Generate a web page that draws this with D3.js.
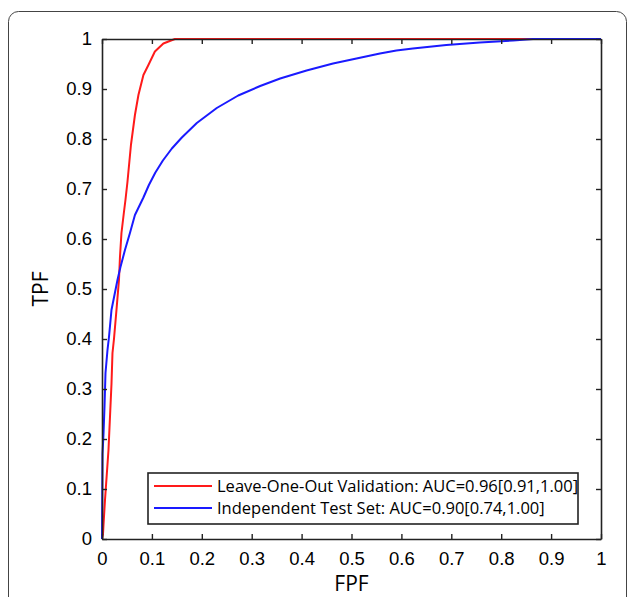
<!DOCTYPE html>
<html>
<head>
<meta charset="utf-8">
<script src="https://cdn.jsdelivr.net/npm/d3@7"></script>
<style>
  body { margin: 0; background: #fff; }
  svg { display: block; font-family: "Open Sans", "Noto Sans", sans-serif; }
</style>
</head>
<body>
<div id="chart"></div>
<script>
var W = 629, H = 597;
var margin = {top: 39, right: 28, bottom: 58, left: 102},
    w = 601 - margin.left,
    h = 539 - margin.top;

// ROC curves
var looFPF = [0, 0.002, 0.003, 0.006, 0.013, 0.019, 0.021, 0.024, 0.029, 0.034, 0.036, 0.039, 0.044, 0.047, 0.051, 0.058, 0.066, 0.073, 0.083, 0.093, 0.106, 0.123, 0.146, 1.0];
var looTPF = [0, 0.01, 0.028, 0.078, 0.178, 0.31, 0.372, 0.4, 0.458, 0.518, 0.564, 0.612, 0.654, 0.678, 0.714, 0.788, 0.848, 0.888, 0.928, 0.948, 0.975, 0.991, 1.0, 1.0];

var testFPF = [0, 0.001, 0.003, 0.005, 0.007, 0.011, 0.014, 0.019, 0.031, 0.037, 0.046, 0.056, 0.066, 0.083, 0.094, 0.107, 0.122, 0.14, 0.16, 0.19, 0.23, 0.273, 0.317, 0.357, 0.41, 0.463, 0.51, 0.557, 0.59, 0.623, 0.69, 0.757, 0.824, 0.864, 1.0];
var testTPF = [0, 0.17, 0.21, 0.264, 0.332, 0.378, 0.404, 0.458, 0.518, 0.544, 0.578, 0.612, 0.648, 0.683, 0.708, 0.733, 0.757, 0.781, 0.803, 0.832, 0.862, 0.887, 0.906, 0.921, 0.937, 0.951, 0.961, 0.971, 0.977, 0.981, 0.988, 0.993, 0.997, 1.0, 1.0];

var ticks = [0, 0.1, 0.2, 0.3, 0.4, 0.5, 0.6, 0.7, 0.8, 0.9, 1];
var seriesNames = ["Leave-One-Out Validation: AUC=0.96[0.91,1.00]", "Independent Test Set: AUC=0.90[0.74,1.00]"];
var seriesColors = ["#ff1a1a", "#1a1aff"];

var svg = d3.select("#chart").append("svg")
    .attr("width", W)
    .attr("height", H);

// card outline
svg.append("rect")
    .attr("x", 8.5).attr("y", 11.5)
    .attr("width", 618).attr("height", 620)
    .attr("rx", 10)
    .attr("fill", "none")
    .attr("stroke", "#444")
    .attr("stroke-width", 1);

var g = svg.append("g")
    .attr("transform", "translate(" + margin.left + "," + margin.top + ")");

var x = d3.scaleLinear().domain([0, 1]).range([0, w]);
var y = d3.scaleLinear().domain([0, 1]).range([h, 0]);
var fmt = d3.format("~g");

var line = d3.line()
    .x(function(d) { return x(d[0]); })
    .y(function(d) { return y(d[1]); });

var series = [d3.zip(looFPF, looTPF), d3.zip(testFPF, testTPF)];

series.forEach(function(s, i) {
  g.append("path")
    .datum(s)
    .attr("fill", "none")
    .attr("stroke", seriesColors[i])
    .attr("stroke-width", 2)
    .attr("stroke-linejoin", "round")
    .attr("d", line);
});

/* axes, inward ticks, matlab style box */
function styleAxis(sel) {
  sel.select(".domain").attr("stroke", "#222").attr("stroke-width", 1.6);
  sel.selectAll(".tick line").attr("stroke", "#222").attr("stroke-width", 1.4);
  sel.selectAll("text").attr("fill", "#000").style("font-size", "18.5px");
}

g.append("g")
  .attr("transform", "translate(0," + h + ")")
  .call(d3.axisBottom(x).tickValues(ticks).tickFormat(fmt).tickSizeInner(-5).tickSizeOuter(0).tickPadding(13))
  .call(styleAxis);
g.append("g")
  .call(d3.axisTop(x).tickValues(ticks).tickFormat("").tickSizeInner(-5).tickSizeOuter(0))
  .call(styleAxis);
g.append("g")
  .call(d3.axisLeft(y).tickValues(ticks).tickFormat(fmt).tickSizeInner(-5).tickSizeOuter(0).tickPadding(10))
  .call(styleAxis);
g.append("g")
  .attr("transform", "translate(" + w + ",0)")
  .call(d3.axisRight(y).tickValues(ticks).tickFormat("").tickSizeInner(-5).tickSizeOuter(0))
  .call(styleAxis);

// axis titles
g.append("text")
  .attr("x", w / 2).attr("y", h + 52)
  .attr("text-anchor", "middle")
  .style("font-size", "21px")
  .attr("fill", "#000")
  .text("FPF");
g.append("text")
  .attr("transform", "translate(" + (-54) + "," + (h / 2) + ") rotate(-90)")
  .attr("text-anchor", "middle")
  .style("font-size", "21px")
  .attr("fill", "#000")
  .text("TPF");

// legend
var lg = g.append("g").attr("transform", "translate(" + (148 - margin.left) + "," + (473 - margin.top) + ")");
lg.append("rect")
  .attr("width", 430).attr("height", 51)
  .attr("fill", "#fff")
  .attr("stroke", "#222")
  .attr("stroke-width", 1.6);
seriesNames.forEach(function(name, i) {
  var ly = 13 + i * 22;
  lg.append("line")
    .attr("x1", 6).attr("x2", 64)
    .attr("y1", ly).attr("y2", ly)
    .attr("stroke", seriesColors[i])
    .attr("stroke-width", 2);
  lg.append("text")
    .attr("x", 69).attr("y", ly)
    .attr("dy", "0.35em")
    .style("font-size", "16.5px")
    .attr("fill", "#000")
    .text(name);
});
</script>
</body>
</html>
